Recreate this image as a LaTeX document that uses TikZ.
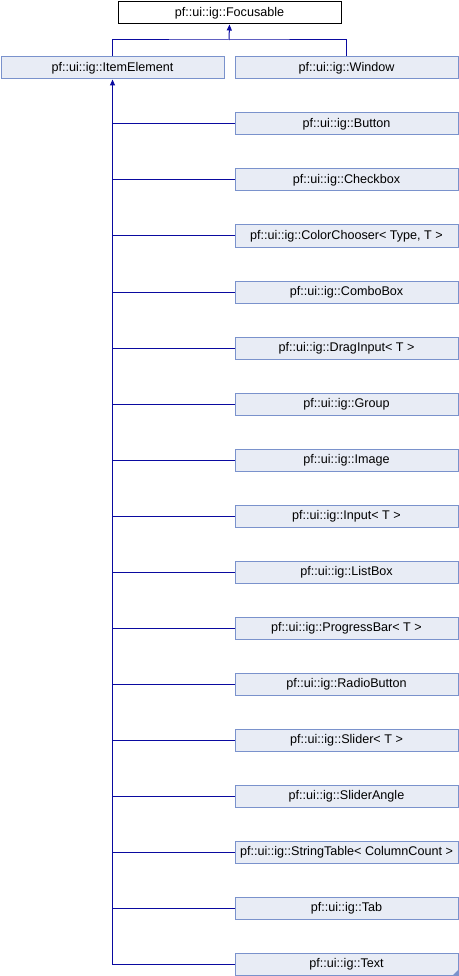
\documentclass[tikz,border=0pt]{standalone}
\usepackage{fontspec}
\setmainfont{Liberation Sans}
\usetikzlibrary{arrows.meta}
\definecolor{boxfill}{HTML}{E8ECF5}
\definecolor{boxborder}{HTML}{7A92CC}
\definecolor{edgecol}{HTML}{0A0AA0}
\tikzset{
  cls/.style={draw=boxborder, fill=boxfill, line width=1pt, anchor=north west,
    minimum width=223pt, minimum height=22pt, inner sep=0pt,
    font=\fontsize{12.6}{13}\selectfont},
  rootcls/.style={cls, draw=black, fill=white},
  edge/.style={draw=edgecol, line width=1pt},
  inh/.style={edge, {Triangle[length=6pt,width=5pt]}-},
}
\begin{document}
\begin{tikzpicture}[x=1pt,y=-1pt]
\useasboundingbox (0,0) rectangle (458,976);
\node[rootcls] (focusable) at (117.5,1.5) {pf::ui::ig::Focusable};
\node[cls] (item) at (0.5,56.5) {pf::ui::ig::ItemElement};
\node[cls] (window) at (234.5,56.5) {pf::ui::ig::Window};
\node[cls] (button) at (234.5,112.5) {pf::ui::ig::Button};
\node[cls] (checkbox) at (234.5,168.5) {pf::ui::ig::Checkbox};
\node[cls] (color) at (234.5,224.5) {pf::ui::ig::ColorChooser< Type, T >};
\node[cls] (combo) at (234.5,280.5) {pf::ui::ig::ComboBox};
\node[cls] (drag) at (234.5,336.5) {pf::ui::ig::DragInput< T >};
\node[cls] (group) at (234.5,392.5) {pf::ui::ig::Group};
\node[cls] (image) at (234.5,448.5) {pf::ui::ig::Image};
\node[cls] (input) at (234.5,504.5) {pf::ui::ig::Input< T >};
\node[cls] (listbox) at (234.5,560.5) {pf::ui::ig::ListBox};
\node[cls] (progress) at (234.5,616.5) {pf::ui::ig::ProgressBar< T >};
\node[cls] (radio) at (234.5,672.5) {pf::ui::ig::RadioButton};
\node[cls] (slider) at (234.5,728.5) {pf::ui::ig::Slider< T >};
\node[cls] (sliderangle) at (234.5,784.5) {pf::ui::ig::SliderAngle};
\node[cls, minimum width=0pt] (stringtable) at (234.5,840.5) {\makebox[223pt][l]{\hspace{5pt}pf::ui::ig::StringTable< ColumnCount >}};
\node[cls] (tab) at (234.5,896.5) {pf::ui::ig::Tab};
\node[cls] (text) at (234.5,952.5) {pf::ui::ig::Text};
\fill[boxborder] (text.south east) -- ++(-6,0) -- ++(6,-6) -- cycle;
% inheritance from Focusable
\coordinate (fj) at (229,40);
\draw[edge] (item.north) |- (fj) -| (window.north);
\draw[inh] (focusable.south) -- (fj);
% inheritance from ItemElement
\draw[inh] (item.south) |- (text.west);
\foreach \c in {button,checkbox,color,combo,drag,group,image,input,listbox,progress,radio,slider,sliderangle,stringtable,tab}
  \draw[edge] (\c.west) -- (\c.west -| item.south);
\end{tikzpicture}
\end{document}
